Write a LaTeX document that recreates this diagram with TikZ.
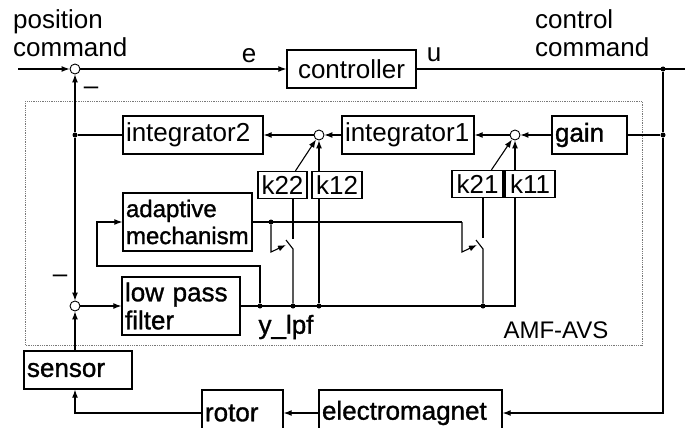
\documentclass[tikz,border=0pt]{standalone}
\usepackage{fontspec}
\setmainfont{Liberation Sans}
\newfontfamily\heavyfont[FakeBold=1.2]{Liberation Sans}
\usetikzlibrary{arrows.meta, positioning, calc}
\definecolor{framecol}{RGB}{120,120,120}
\newcommand{\blkfont}{\fontsize{26}{28}\selectfont}
\hyphenpenalty=10000
\exhyphenpenalty=10000

\begin{document}
\begin{tikzpicture}[x=1pt, y=-1pt,
  wire/.style={line width=1.1pt},
  arr/.style={wire, -{Latex[length=8pt, width=6pt]}},
  blk/.style={draw, line width=1.4pt, inner xsep=3pt, inner ysep=0pt, minimum height=38pt, align=left, font=\blkfont},
  hblk/.style={blk, font=\blkfont\heavyfont},
  kblk/.style={draw, line width=1.4pt, inner sep=0pt, minimum width=50pt, minimum height=27pt, font=\blkfont},
  sumc/.style={circle, draw, fill=white, line width=0.9pt, minimum size=10pt, inner sep=0pt},
  jdot/.style={circle, fill, minimum size=5pt, inner sep=0pt},
  lbl/.style={font=\blkfont, inner sep=0pt}]
  \useasboundingbox (0,0) rectangle (685,428);
  \clip (0,0) rectangle (685,428);
  % AMF-AVS frame
  \draw[framecol, densely dotted, line width=0.8pt] (25,101) rectangle (642,345);
  \node[lbl, font=\fontsize{24}{26}\selectfont] (frametag) at (556,330) {AMF-AVS};
  % outer loop
  \node[lbl, align=left, anchor=north west] (poscmd) at (13,9) {position\\command};
  \node[lbl, align=left, anchor=north west] (ctlcmd) at (535,9) {control\\command};
  \coordinate (refin) at (18,69);
  \node[sumc] (s1) at (75,69) {};
  \node[blk, text width=123pt, align=center] (ctrl) at (351.5,69) {controller};
  \node[lbl] (elbl) at (249,56) {e};
  \node[lbl] (ulbl) at (434,55) {u};
  \node[jdot] (j1) at (663,69) {};
  \coordinate (uout) at (685,69);
  \draw[arr] (refin) -- (s1);
  \draw[arr] (s1) -- (ctrl);
  \draw[wire] (ctrl) -- (uout);
  \node[lbl] (m1) at (91,91) {–};
  % integrator row
  \node[blk, text width=134pt] (int2) at (193,135) {integrator2};
  \node[sumc] (s3) at (319,135) {};
  \node[blk, text width=126pt] (int1) at (408,135) {integrator1};
  \node[sumc] (s2) at (515,135) {};
  \node[hblk, text width=69pt] (gain) at (589.5,135) {gain};
  \node[jdot] (j2) at (663,135) {};
  \node[jdot] (j3) at (75,135) {};
  \draw[wire] (j2) -- (gain);
  \draw[arr] (gain) -- (s2);
  \draw[arr] (s2) -- (int1);
  \draw[arr] (int1) -- (s3);
  \draw[arr] (s3) -- (int2);
  \draw[wire] (int2) -- (j3);
  % gains
  \node[kblk, minimum width=49pt] (k22) at (282.5,185) {k22};
  \node[kblk] (k12) at (337,185) {k12};
  \node[kblk, minimum width=51pt] (k21) at (477.5,184) {k21};
  \node[kblk] (k11) at (530,184) {k11};
  \draw[arr] ([xshift=13pt]k22.north) -- (s3);
  \draw[arr] (k12.north -| s3) -- (s3);
  \draw[arr] ([xshift=14pt]k21.north) -- (s2);
  \draw[arr] (k11.north -| s2) -- (s2);
  % adaptive mechanism, filter, plant
  \node[hblk, text width=123pt, minimum height=58pt, font=\fontsize{24}{27}\selectfont\heavyfont] (adp) at (187.5,222) {adaptive\\mechanism};
  \node[hblk, text width=112pt, minimum height=58pt] (lpf) at (181,306) {low pass\\filter};
  \node[sumc] (s4) at (75,306) {};
  \node[lbl] (m2) at (60,279) {–};
  \node[hblk, text width=102pt] (sensor) at (78,370) {sensor};
  \node[hblk, text width=75pt, minimum height=46pt] (rotor) at (242.5,413) {rotor};
  \node[hblk, text width=177pt, minimum height=46pt] (emag) at (410.5,413) {electromagnet};
  \node[lbl, font=\blkfont\heavyfont] (ylbl) at (286,327) {y\_lpf};
  % y_lpf bus
  \node[jdot] (ja) at (260,306) {};
  \node[jdot] (jb) at (293,306) {};
  \node[jdot] (jc) at (319,306) {};
  \node[jdot] (jd) at (483,306) {};
  \coordinate (ye) at (515,306);
  \draw[wire] (lpf) -- (ye) -- (k11.south -| ye);
  \draw[wire] (jc) -- (k12.south -| jc);
  % feedback paths
  \draw[arr] (j3) -- (s1);
  \draw[arr] (j3) -- (s4);
  \draw[arr] (s4) -- (lpf);
  \draw[arr] (sensor.north -| s4) -- (s4);
  \draw[arr] (rotor.west) -- (rotor.west -| s4) -- (sensor.south -| s4);
  \draw[arr] (emag) -- (rotor);
  \draw[wire] (j1) -- (j2);
  \draw[arr] (j2) -- (j2 |- emag) -- (emag);
  % adaptation input
  \coordinate (fb) at (97,266);
  \draw[arr] (ja) |- (fb) |- (adp);
  % switches
  \node[jdot] (je) at (271,222) {};
  \coordinate (swb) at (462,222);
  \draw[wire] (adp) -- (swb);
  \draw[wire] (k22.south -| jb) -- ++(0,40);
  \draw[wire] (jb) -- ++(0,-57) -- ++(-7,-9);
  \draw[arr] (je) -- ++(0,30) -- ++(15,-7);
  \draw[wire] (k21.south -| jd) -- ++(0,40);
  \draw[wire] (jd) -- ++(0,-57) -- ++(-7,-9);
  \draw[arr] (swb) -- ++(0,30) -- ++(15,-7);
\end{tikzpicture}
\end{document}
